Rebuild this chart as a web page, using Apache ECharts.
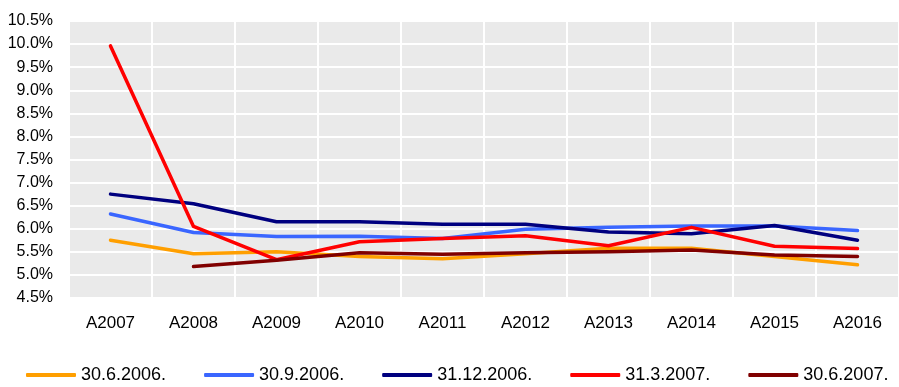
<!DOCTYPE html>
<html>
<head>
<meta charset="utf-8">
<script src="https://cdn.jsdelivr.net/npm/echarts@6/dist/echarts.min.js"></script>
<style>
html,body{margin:0;padding:0;background:#fff;}
#c{width:899px;height:387px;}
</style>
</head>
<body>
<div id="c"></div>
<script>
var categories = ['A2007','A2008','A2009','A2010','A2011','A2012','A2013','A2014','A2015','A2016'];
var seriesNames = ['30.6.2006.','30.9.2006.','31.12.2006.','31.3.2007.','30.6.2007.'];
var s_30_6_2006 = [5.75, 5.46, 5.50, 5.40, 5.35, 5.46, 5.58, 5.58, 5.40, 5.22];
var s_30_9_2006 = [6.32, 5.92, 5.83, 5.84, 5.79, 5.99, 6.03, 6.06, 6.06, 5.96];
var s_31_12_2006 = [6.75, 6.54, 6.15, 6.15, 6.10, 6.10, 5.93, 5.89, 6.07, 5.75];
var s_31_3_2007 = [9.96, 6.05, 5.33, 5.72, 5.79, 5.85, 5.63, 6.03, 5.62, 5.57];
var s_30_6_2007 = [null, 5.18, 5.32, 5.48, 5.45, 5.48, 5.50, 5.54, 5.43, 5.40];
var seriesValues = [s_30_6_2006, s_30_9_2006, s_31_12_2006, s_31_3_2007, s_30_6_2007];
var colors = ['#FF9F00', '#3A66FF', '#00007F', '#FF0000', '#800000'];

var font = "'Liberation Sans', Arial, sans-serif";
var chart = echarts.init(document.getElementById('c'), null, {renderer: 'canvas'});
chart.setOption({
  animation: false,
  backgroundColor: '#ffffff',
  grid: {
    left: 69, top: 21, width: 834, height: 277,
    show: true, backgroundColor: '#EAEAEA', borderWidth: 0
  },
  legend: {
    left: 26, top: 366, padding: 0,
    itemWidth: 50, itemHeight: 4, itemGap: 38,
    icon: 'roundRect',
    textStyle: {fontFamily: font, fontSize: 18, color: '#000'},
    data: seriesNames
  },
  xAxis: {
    type: 'category',
    data: categories,
    boundaryGap: true,
    axisLine: {show: false},
    axisTick: {show: false},
    splitLine: {show: true, lineStyle: {color: '#ffffff', width: 2}},
    axisLabel: {fontFamily: font, fontSize: 17, color: '#000', margin: 17}
  },
  yAxis: {
    type: 'value',
    min: 4.5, max: 10.5, interval: 0.5,
    axisLine: {show: false},
    axisTick: {show: false},
    splitLine: {show: true, lineStyle: {color: '#ffffff', width: 2}},
    axisLabel: {
      fontFamily: font, fontSize: 16, color: '#000', margin: 16,
      formatter: function (v) { return v.toFixed(1) + '%'; }
    }
  },
  series: seriesNames.map(function (n, i) {
    return {
      name: n,
      type: 'line',
      data: seriesValues[i],
      showSymbol: false,
      symbol: 'none',
      color: colors[i],
      lineStyle: {width: 3.5, color: colors[i], cap: 'round', join: 'round'},
      connectNulls: false
    };
  })
});
</script>
</body>
</html>
